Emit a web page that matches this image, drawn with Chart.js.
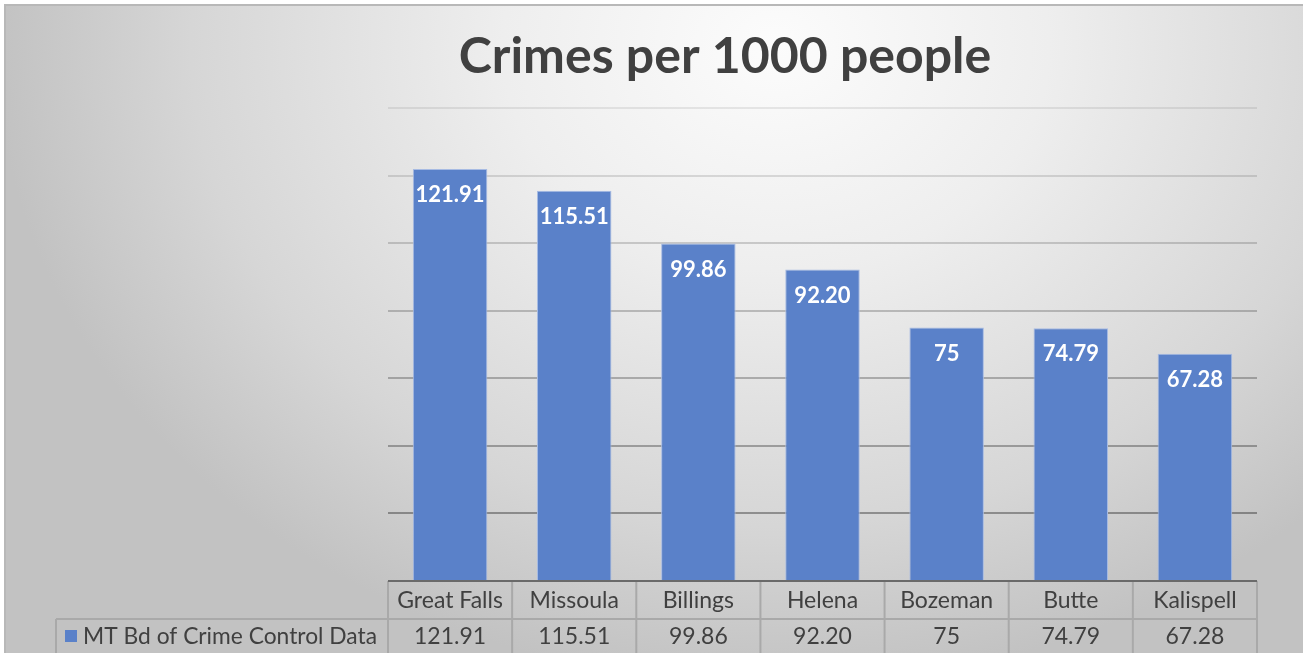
<!DOCTYPE html>
<html>
<head>
<meta charset="utf-8">
<script src="https://cdn.jsdelivr.net/npm/chart.js@4"></script>
<style>
    html, body { margin: 0; padding: 0; background: #fff; }
    #wrap {
        position: absolute; left: 4px; top: 4px; width: 1299px; height: 649px;
        border-top: 2px solid #b8b8b8; border-left: 2px solid #b8b8b8;
        background: radial-gradient(ellipse 780px 640px at 770px 40px, #fcfcfc 0%, #eeeeee 35%, #d6d6d6 75%, #c2c2c2 100%);
        overflow: hidden;
    }
    #crimeChart { position: absolute; left: -6px; top: -6px; }
</style>
</head>
<body>
<div id="wrap"><canvas id="crimeChart" width="1303" height="653"></canvas></div>
<script>
const cities = ['Great Falls', 'Missoula', 'Billings', 'Helena', 'Bozeman', 'Butte', 'Kalispell'];
const crimeRates = [121.91, 115.51, 99.86, 92.20, 75, 74.79, 67.28];
const rateLabels = ['121.91', '115.51', '99.86', '92.20', '75', '74.79', '67.28'];
const seriesName = 'MT Bd of Crime Control Data';
const chartTitle = 'Crimes per 1000 people';

const FONT = 'Lato, "Open Sans", sans-serif';
const TEXT = '#404040';
const BAR_BLUE = '#5a81c9';

// title, bar labels and the data table under the plot
const extrasPlugin = {
    id: 'extras',
    afterDatasetsDraw(chart) {
        const ctx = chart.ctx;
        const meta = chart.getDatasetMeta(0);
        ctx.save();
        ctx.fillStyle = '#ffffff';
        ctx.font = 'bold 22px ' + FONT;
        ctx.textAlign = 'center';
        ctx.textBaseline = 'middle';
        meta.data.forEach((bar, i) => {
            ctx.fillText(rateLabels[i], bar.x, bar.y + 26);
        });
        ctx.restore();
    },
    afterDraw(chart) {
        const ctx = chart.ctx;
        const area = chart.chartArea;
        const xs = chart.scales.x;
        const colW = (area.right - area.left) / cities.length;
        const rowTop = area.bottom;
        const rowMid = rowTop + 38;
        const rowBot = rowMid + 40;

        ctx.save();
        // title
        ctx.fillStyle = TEXT;
        ctx.font = 'bold 50px ' + FONT;
        ctx.textAlign = 'center';
        ctx.textBaseline = 'middle';
        ctx.fillText(chartTitle, 725, 57);

        // table grid
        ctx.strokeStyle = '#a9a9a9';
        ctx.lineWidth = 2;
        ctx.beginPath();
        ctx.moveTo(56, rowMid); ctx.lineTo(area.right, rowMid);
        ctx.moveTo(56, rowMid); ctx.lineTo(56, rowBot);
        for (let i = 0; i <= cities.length; i++) {
            const x = area.left + i * colW;
            ctx.moveTo(x, rowTop); ctx.lineTo(x, rowBot);
        }
        ctx.stroke();

        // axis line on top of the table
        ctx.strokeStyle = '#6a6a6a';
        ctx.beginPath();
        ctx.moveTo(area.left, rowTop); ctx.lineTo(area.right, rowTop);
        ctx.stroke();

        // table text
        ctx.fillStyle = TEXT;
        ctx.font = '23px ' + FONT;
        cities.forEach((c, i) => {
            const x = xs.getPixelForValue(i);
            ctx.fillText(c, x, rowTop + 20);
            ctx.fillText(rateLabels[i], x, rowMid + 18);
        });

        // legend key
        ctx.fillStyle = BAR_BLUE;
        ctx.fillRect(65, rowMid + 11, 12, 12);
        ctx.fillStyle = TEXT;
        ctx.textAlign = 'left';
        ctx.font = '22.8px ' + FONT;
        ctx.fillText(seriesName, 83, rowMid + 18);
        ctx.restore();
    }
};

new Chart(document.getElementById('crimeChart'), {
    type: 'bar',
    data: {
        labels: cities,
        datasets: [{
            label: seriesName,
            data: crimeRates,
            backgroundColor: BAR_BLUE,
            borderColor: '#a7bbe3',
            borderWidth: 1,
            categoryPercentage: 1,
            barPercentage: 0.6
        }]
    },
    options: {
        responsive: false,
        animation: false,
        devicePixelRatio: 1,
        layout: { padding: { left: 388, right: 46, top: 108, bottom: 72 } },
        plugins: {
            legend: { display: false },
            title: { display: false },
            tooltip: { enabled: false }
        },
        scales: {
            x: { display: false },
            y: {
                min: 0,
                max: 140,
                ticks: { display: false, stepSize: 20 },
                border: { display: false },
                grid: {
                    drawTicks: false,
                    lineWidth: 2,
                    color: (c) => {
                        if (c.tick && c.tick.value === 0) return 'rgba(0,0,0,0)';
                        const a = 0.08 + (140 - (c.tick ? c.tick.value : 140)) / 140 * 0.3;
                        return 'rgba(0,0,0,' + a.toFixed(3) + ')';
                    }
                }
            }
        }
    },
    plugins: [extrasPlugin]
});
</script>
</body>
</html>
